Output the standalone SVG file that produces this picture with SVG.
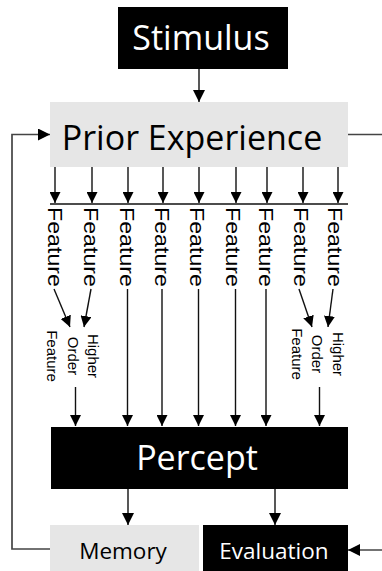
<svg xmlns="http://www.w3.org/2000/svg" width="382" height="571" viewBox="0 0 382 571">
  <style>
    .big { font-family: "Open Sans", "Noto Sans", sans-serif; font-size: 34px; text-anchor: middle; }
    .mid { font-family: "Open Sans", "Noto Sans", sans-serif; font-size: 22.5px; text-anchor: middle; }
    .feat { font-family: "Liberation Sans", Arial, sans-serif; font-size: 20px; fill: #000; }
    .hof { font-family: "Liberation Sans", Arial, sans-serif; font-size: 15px; fill: #000; text-anchor: middle; }
    .white { fill: #fff; }
    .black { fill: #000; }
    .dark { fill: #000; }
    .light { fill: #e6e6e6; }
    .edge { stroke: #111; stroke-width: 1.4; fill: none; }
    .loop { stroke: #444; stroke-width: 1.7; fill: none; }
  </style>
  <defs>
    <marker id="arrow" viewBox="0 0 12 12" markerWidth="12" markerHeight="12" refX="12" refY="6" orient="auto" markerUnits="userSpaceOnUse">
      <path d="M0,0 L12,6 L0,12 z" fill="#000"/>
    </marker>
    <marker id="arrowS" viewBox="0 0 11 11" markerWidth="11" markerHeight="11" refX="11" refY="5.5" orient="auto" markerUnits="userSpaceOnUse">
      <path d="M0,0 L11,5.5 L0,11 z" fill="#000"/>
    </marker>
  </defs>

  <!-- nodes -->
  <g id="stimulus">
    <rect x="118" y="7" width="170" height="62" class="dark"/>
    <text x="201" y="50" class="big white">Stimulus</text>
  </g>

  <g id="prior-experience">
    <rect x="50" y="102" width="298" height="65" class="light"/>
    <text x="192" y="150" class="big black">Prior Experience</text>
  </g>

  <g id="features">
    <text class="feat" transform="translate(47.5,207) rotate(90)" textLength="80" lengthAdjust="spacingAndGlyphs">Feature</text>
    <text class="feat" transform="translate(83.5,207) rotate(90)" textLength="80" lengthAdjust="spacingAndGlyphs">Feature</text>
    <text class="feat" transform="translate(119.5,207) rotate(90)" textLength="80" lengthAdjust="spacingAndGlyphs">Feature</text>
    <text class="feat" transform="translate(154.5,207) rotate(90)" textLength="80" lengthAdjust="spacingAndGlyphs">Feature</text>
    <text class="feat" transform="translate(189.5,207) rotate(90)" textLength="80" lengthAdjust="spacingAndGlyphs">Feature</text>
    <text class="feat" transform="translate(225.5,207) rotate(90)" textLength="80" lengthAdjust="spacingAndGlyphs">Feature</text>
    <text class="feat" transform="translate(258.5,207) rotate(90)" textLength="80" lengthAdjust="spacingAndGlyphs">Feature</text>
    <text class="feat" transform="translate(293.5,207) rotate(90)" textLength="80" lengthAdjust="spacingAndGlyphs">Feature</text>
    <text class="feat" transform="translate(327.5,207) rotate(90)" textLength="80" lengthAdjust="spacingAndGlyphs">Feature</text>
  </g>

  <g id="higher-order-left">
    <text class="hof" transform="translate(88,356) rotate(90)">Higher</text>
    <text class="hof" transform="translate(68,356) rotate(90)">Order</text>
    <text class="hof" transform="translate(47,356) rotate(90)">Feature</text>
  </g>

  <g id="higher-order-right">
    <text class="hof" transform="translate(333,354) rotate(90)">Higher</text>
    <text class="hof" transform="translate(312,354) rotate(90)">Order</text>
    <text class="hof" transform="translate(292,354) rotate(90)">Feature</text>
  </g>

  <g id="percept">
    <rect x="51" y="427" width="297" height="62" class="dark"/>
    <text x="197" y="470" class="big white">Percept</text>
  </g>

  <g id="memory">
    <rect x="50" y="525" width="149" height="46" class="light"/>
    <text x="123" y="559" class="mid black">Memory</text>
  </g>

  <g id="evaluation">
    <rect x="203" y="525" width="145" height="46" class="dark"/>
    <text x="274" y="559" class="mid white">Evaluation</text>
  </g>

  <!-- connectors -->
  <g id="connectors">
    <line x1="199" y1="69" x2="199" y2="102" class="edge" marker-end="url(#arrow)"/>

    <!-- prior experience fan-out -->
    <line x1="55" y1="167" x2="55" y2="203" class="edge" marker-end="url(#arrowS)"/>
    <line x1="92" y1="167" x2="92" y2="203" class="edge" marker-end="url(#arrowS)"/>
    <line x1="128" y1="167" x2="128" y2="203" class="edge" marker-end="url(#arrowS)"/>
    <line x1="163" y1="167" x2="163" y2="203" class="edge" marker-end="url(#arrowS)"/>
    <line x1="199" y1="167" x2="199" y2="203" class="edge" marker-end="url(#arrowS)"/>
    <line x1="236" y1="167" x2="236" y2="203" class="edge" marker-end="url(#arrowS)"/>
    <line x1="267" y1="167" x2="267" y2="203" class="edge" marker-end="url(#arrowS)"/>
    <line x1="303" y1="167" x2="303" y2="203" class="edge" marker-end="url(#arrowS)"/>
    <line x1="338" y1="167" x2="338" y2="203" class="edge" marker-end="url(#arrowS)"/>
    <line x1="50" y1="204" x2="348" y2="204" class="edge"/>

    <!-- features into higher order features -->
    <line x1="54" y1="289" x2="70" y2="327" class="edge" marker-end="url(#arrowS)"/>
    <line x1="91" y1="289" x2="84" y2="327" class="edge" marker-end="url(#arrowS)"/>
    <line x1="299" y1="289" x2="312" y2="327" class="edge" marker-end="url(#arrowS)"/>
    <line x1="333" y1="289" x2="328" y2="327" class="edge" marker-end="url(#arrowS)"/>

    <!-- into percept -->
    <line x1="75.5" y1="387" x2="75.5" y2="426" class="edge" marker-end="url(#arrowS)"/>
    <line x1="127.5" y1="289" x2="127.5" y2="426" class="edge" marker-end="url(#arrowS)"/>
    <line x1="162" y1="289" x2="162" y2="426" class="edge" marker-end="url(#arrowS)"/>
    <line x1="198.5" y1="289" x2="198.5" y2="426" class="edge" marker-end="url(#arrowS)"/>
    <line x1="235.5" y1="289" x2="235.5" y2="426" class="edge" marker-end="url(#arrowS)"/>
    <line x1="266" y1="289" x2="266" y2="426" class="edge" marker-end="url(#arrowS)"/>
    <line x1="319.5" y1="387" x2="319.5" y2="426" class="edge" marker-end="url(#arrowS)"/>

    <!-- percept outputs -->
    <line x1="128" y1="489" x2="128" y2="525" class="edge" marker-end="url(#arrow)"/>
    <line x1="275" y1="489" x2="275" y2="525" class="edge" marker-end="url(#arrow)"/>

    <!-- feedback loops -->
    <polyline points="50,549 12,549 12,134.5 50,134.5" class="loop" marker-end="url(#arrow)"/>
    <line x1="348" y1="134.5" x2="382" y2="134.5" class="loop"/>
    <line x1="382" y1="550" x2="348" y2="550" class="loop" marker-end="url(#arrow)"/>
  </g>
</svg>
